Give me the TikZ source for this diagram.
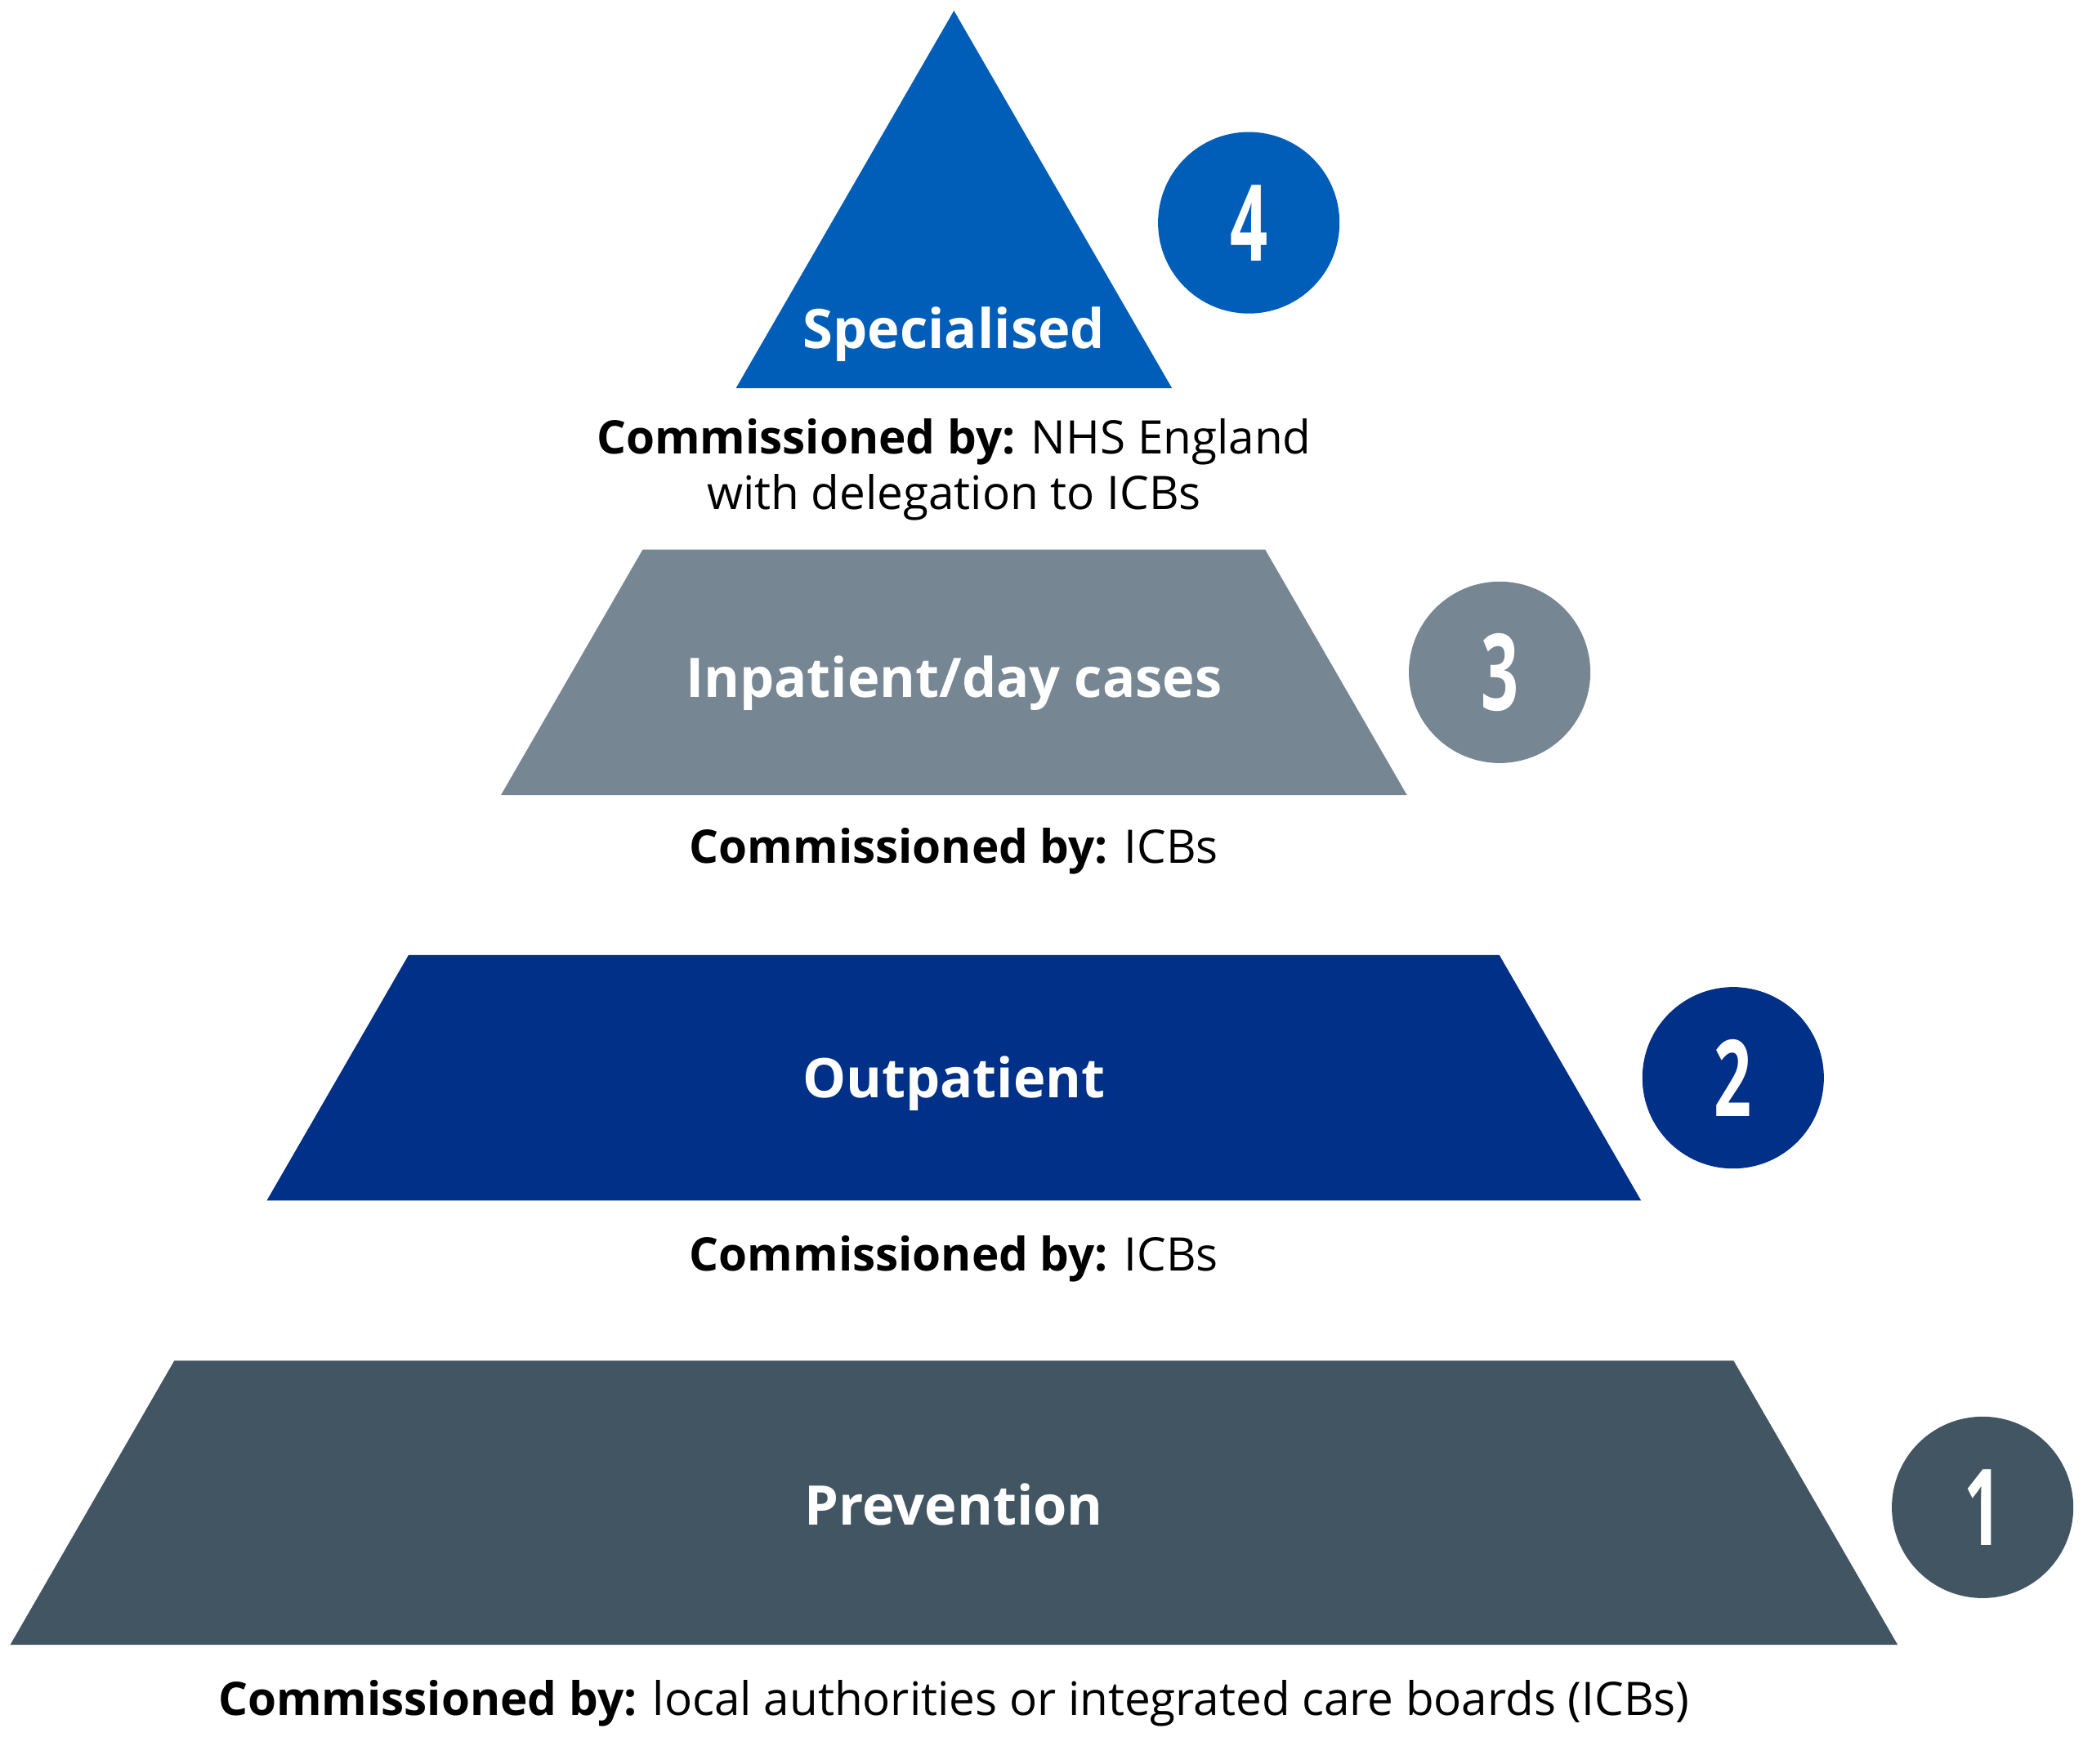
\documentclass[tikz,border=0pt]{standalone}
\usepackage{fontspec}
\setmainfont{Open Sans}
\definecolor{nhsblue}{HTML}{005EB8}
\definecolor{nhsgrey}{HTML}{768692}
\definecolor{nhsdark}{HTML}{003087}
\definecolor{nhsslate}{HTML}{425563}
\newcommand{\digitnum}[1]{\scalebox{0.62}[1]{#1}}
\begin{document}
\begin{tikzpicture}[x=0.016327cm, y=-0.016327cm, line join=round,
		tierlab/.style={text=white, anchor=base, font=\fontsize{19}{23}\selectfont\bfseries},
		comm/.style={anchor=base, align=center, font=\fontsize{16.1}{19.5}\selectfont},
		badge/.style={circle, minimum size=63.2pt, inner sep=0pt, text=white, font=\fontsize{37}{40}\selectfont\bfseries}]
	%%Khung hinh
	\useasboundingbox (0,0) rectangle (1568,1322.3);
	\def \cx{715}
	\def \apex{8}
	%%Cac tang cua kim tu thap
	\foreach \ya/\yb/\col in {8/291/nhsblue, 412/596/nhsgrey, 716/900/nhsdark, 1020/1233/nhsslate}
	{
		\pgfmathsetmacro\wa{(\ya-\apex)*0.5774}
		\pgfmathsetmacro\wb{(\yb-\apex)*0.5774}
		\fill[\col] (\cx-\wa,\ya) -- (\cx+\wa,\ya) -- (\cx+\wb,\yb) -- (\cx-\wb,\yb) -- cycle;
	}
	%%Ten cac tang
	\node[tierlab] (lab4) at (\cx,261) {Specialised};
	\node[tierlab] (lab3) at (\cx,523) {Inpatient/day cases};
	\node[tierlab] (lab2) at (\cx,823) {Outpatient};
	\node[tierlab] (lab1) at (\cx,1143) {Prevention};
	%%Cac so thu tu
	\node[badge, fill=nhsblue] (num4) at (936,167) {\digitnum{4}};
	\node[badge, fill=nhsgrey] (num3) at (1124,504) {\digitnum{3}};
	\node[badge, fill=nhsdark] (num2) at (1299,808) {\digitnum{2}};
	\node[badge, fill=nhsslate] (num1) at (1486,1130) {\digitnum{1}};
	%%Don vi dat hang
	\node[comm] (com4) at (\cx,382) {\textbf{Commissioned by:} NHS England\\with delegation to ICBs};
	\node[comm] (com3) at (\cx,647) {\textbf{Commissioned by:} ICBs};
	\node[comm] (com2) at (\cx,953) {\textbf{Commissioned by:} ICBs};
	\node[comm] (com1) at (\cx,1286) {\textbf{Commissioned by:} local authorities or integrated care boards (ICBs)};
\end{tikzpicture}
\end{document}
